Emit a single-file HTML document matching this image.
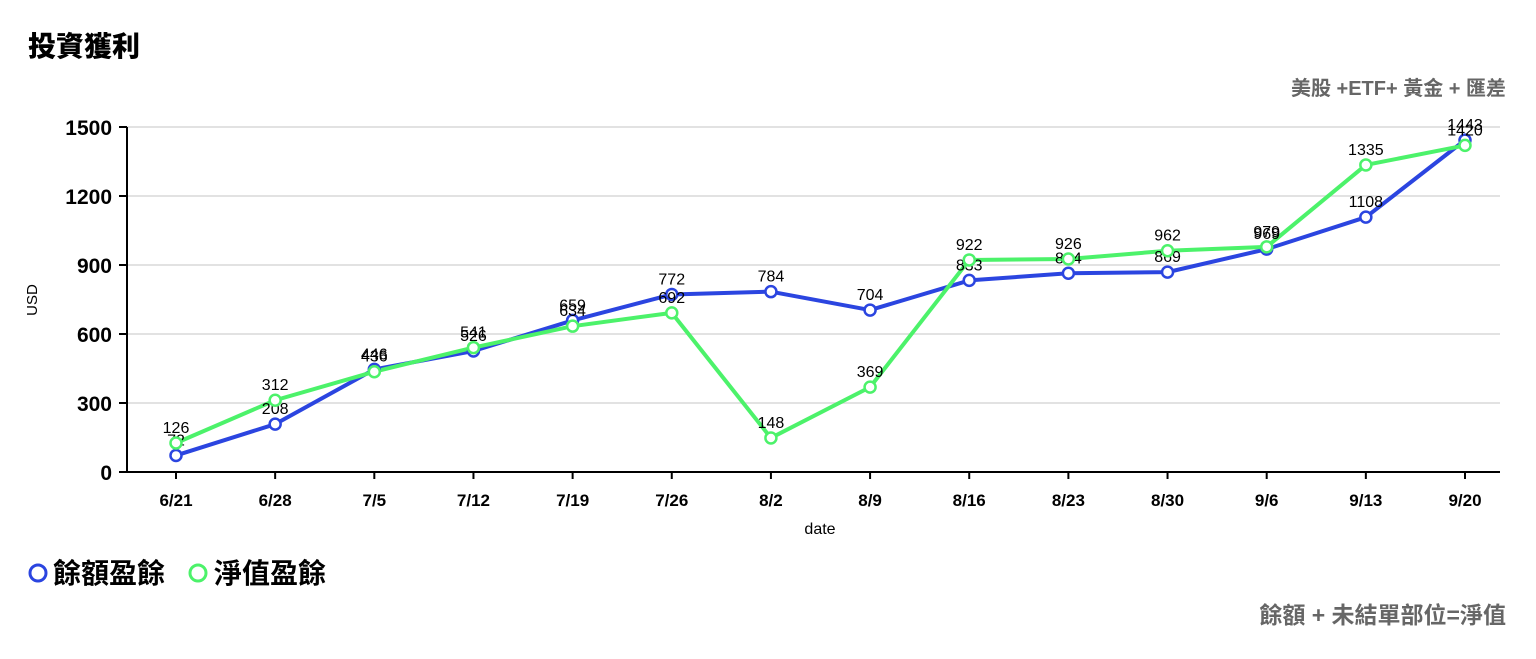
<!DOCTYPE html>
<html><head><meta charset="utf-8"><style>
body{margin:0;background:#fff;width:1536px;height:654px;overflow:hidden;font-family:"Liberation Sans","Noto Sans CJK TC",sans-serif}
</style></head><body>
<svg id="s" width="1536" height="654" xmlns="http://www.w3.org/2000/svg" font-family="Liberation Sans, Noto Sans CJK TC, sans-serif">
<text x="28" y="56" font-size="28" font-weight="900" fill="#000">投資獲利</text>
<text x="1506" y="95" font-size="20" font-weight="700" fill="#666" text-anchor="end">美股 +ETF+ 黃金 + 匯差</text>
<text x="1506" y="623" font-size="23" font-weight="700" fill="#666" text-anchor="end">餘額 + 未結單部位=淨值</text>
<g id="grid"></g>
<line x1="127" y1="127" x2="127" y2="472" stroke="#000" stroke-width="2"/>
<line x1="127" y1="472" x2="1500" y2="472" stroke="#000" stroke-width="2"/>
<text x="37" y="300" font-size="15" transform="rotate(-90 37 300)" text-anchor="middle" fill="#000">USD</text>
<text x="820" y="534" font-size="16" text-anchor="middle" fill="#000">date</text>
<g id="plot"></g>
<circle cx="38" cy="573" r="8" fill="#fff" stroke="#2b45e0" stroke-width="3"/>
<text x="53" y="583" font-size="28" font-weight="700" fill="#000">餘額盈餘</text>
<circle cx="198" cy="573" r="8" fill="#fff" stroke="#4cf26a" stroke-width="3"/>
<text x="214" y="583" font-size="28" font-weight="700" fill="#000">淨值盈餘</text>
</svg>
<script>
const NS="http://www.w3.org/2000/svg";
function el(p,t,a,txt){const e=document.createElementNS(NS,t);for(const k in a)e.setAttribute(k,a[k]);if(txt!==undefined)e.textContent=txt;p.appendChild(e);return e;}
const g=document.getElementById('grid'),p=document.getElementById('plot');
const Y=v=>472-0.23*v, X=i=>176+99.154*i;
[0,300,600,900,1200,1500].forEach(v=>{
 if(v>0)el(g,'line',{x1:127,x2:1500,y1:Y(v),y2:Y(v),stroke:'#d8d8d8','stroke-width':1.5});
 el(g,'line',{x1:119,x2:127,y1:Y(v),y2:Y(v),stroke:'#000','stroke-width':2});
 el(g,'text',{x:112,y:Y(v)+8,'font-size':21,'font-weight':700,'text-anchor':'end'},v);
});
const d=['6/21','6/28','7/5','7/12','7/19','7/26','8/2','8/9','8/16','8/23','8/30','9/6','9/13','9/20'];
d.forEach((t,i)=>{el(g,'line',{x1:X(i),x2:X(i),y1:472,y2:479,stroke:'#000','stroke-width':2});
 el(g,'text',{x:X(i),y:506,'font-size':17,'font-weight':700,'text-anchor':'middle'},t);});
const B=[72,208,446,526,659,772,784,704,833,864,869,969,1108,1443];
const G=[126,312,436,541,634,692,148,369,922,926,962,979,1335,1420];
function series(a,c){
 el(p,'polyline',{points:a.map((v,i)=>X(i)+','+Y(v)).join(' '),fill:'none',stroke:c,'stroke-width':4,'stroke-linejoin':'round'});
}
series(B,'#2b45e0');series(G,'#4cf26a');
function pts(a,c){a.forEach((v,i)=>{el(p,'circle',{cx:X(i),cy:Y(v),r:5.5,fill:'#fff',stroke:c,'stroke-width':2.5});
 el(p,'text',{x:X(i),y:Y(v)-10,'font-size':16,'text-anchor':'middle',fill:'#000'},v);});}
pts(B,'#2b45e0');pts(G,'#4cf26a');
</script>
</body></html>
